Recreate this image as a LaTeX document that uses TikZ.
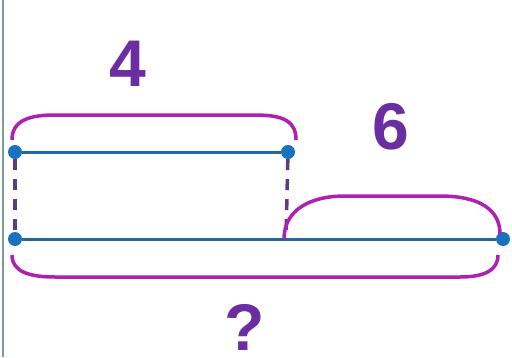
\documentclass[tikz,border=0pt]{standalone}
\usepackage{fontspec}
\setmainfont{Liberation Sans}
\definecolor{lineblue}{HTML}{1E67A0}
\definecolor{dotblue}{HTML}{1A72BE}
\definecolor{brace}{HTML}{AE20B4}
\definecolor{numpurple}{HTML}{6A2EA2}
\definecolor{dashpurple}{HTML}{5B3C87}
\definecolor{edgegray}{HTML}{7C9A9A}
\begin{document}
\begin{tikzpicture}[x=1pt,y=-1pt,
  dot/.style={circle,fill=dotblue,inner sep=0pt,minimum size=14pt},
  seg/.style={draw=lineblue,line width=3pt},
  guide/.style={draw=dashpurple,line width=3.5pt,dash pattern=on 11pt off 9pt},
  bracearc/.style={draw=brace,line width=3.5pt},
  num/.style={text=numpurple,font=\bfseries\fontsize{66}{66}\selectfont,inner sep=0pt}]
\useasboundingbox (0,0) rectangle (512,357);
\fill[white] (0,0) rectangle (512,357);
\draw[edgegray,line width=2pt] (2.5,0) -- (2.5,357);
% points
\node[dot] (a) at (15,152) {};
\node[dot] (b) at (288,152) {};
\node[dot] (c) at (15,239) {};
\node[dot] (d) at (503,239) {};
\coordinate (m) at (284,239);
% dashed guides
\draw[guide] (a) -- (c);
\draw[guide] (b) -- (286,238);
% lines
\draw[seg] (a) -- (b);
\draw[seg] (c) -- (d);
% braces
\draw[bracearc] (12,140) .. controls (12,120) and (30,115) .. (55,115) -- (255,115) .. controls (285,115) and (296,122) .. (296,140);
\draw[bracearc] (m) .. controls (284,210) and (310,196) .. (345,196) -- (440,196) .. controls (480,196) and (500,210) .. (500,234);
\draw[bracearc] (12,255) .. controls (12,272) and (30,277) .. (55,277) -- (460,277) .. controls (485,277) and (498,270) .. (498,255);
% labels
\node[num] (l4) at (128,64) {4};
\node[num] (l6) at (391,127) {6};
\node[num] (lq) at (245,327) {?};
\end{tikzpicture}
\end{document}
